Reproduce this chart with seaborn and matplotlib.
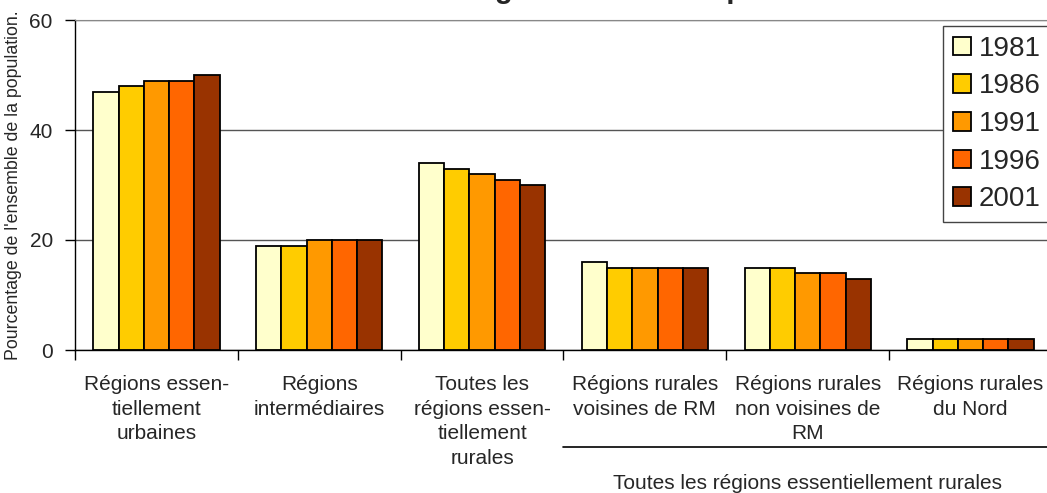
import numpy as np
import pandas as pd
import seaborn as sns
import matplotlib.pyplot as plt

# data
regions = ["Régions essen-\ntiellement\nurbaines",
           "Régions\nintermédiaires",
           "Toutes les\nrégions essen-\ntiellement\nrurales",
           "Régions rurales\nvoisines de RM",
           "Régions rurales\nnon voisines de\nRM",
           "Régions rurales\ndu Nord"]
years = ["1981", "1986", "1991", "1996", "2001"]
v1981 = [47, 19, 34, 16, 15, 2]
v1986 = [48, 19, 33, 15, 15, 2]
v1991 = [49, 20, 32, 15, 14, 2]
v1996 = [49, 20, 31, 15, 14, 2]
v2001 = [50, 20, 30, 15, 13, 2]
colors = ["#FFFFCC", "#FFCC00", "#FF9900", "#FF6600", "#993300"]
group_label = "Toutes les régions essentiellement rurales"
ylabel = "Pourcentage de l'ensemble de la population."
title = "Les régions selon leur part"

rows = []
for yr, vals in zip(years, [v1981, v1986, v1991, v1996, v2001]):
    for reg, v in zip(regions, vals):
        rows.append({"region": reg, "annee": yr, "pct": v})
df = pd.DataFrame(rows)

sns.set_style("white")
plt.rcParams['font.family'] = ['Liberation Sans', 'DejaVu Sans']

W, H = 1047, 493
fig = plt.figure(figsize=(W / 100, H / 100), dpi=100)
ax = fig.add_axes([75 / W, 1 - 350 / H, (1052 - 75) / W, 330 / H])

sns.barplot(data=df, x="region", y="pct", hue="annee", order=regions,
            hue_order=years, palette=dict(zip(years, colors)), saturation=1,
            width=0.775, edgecolor="black", linewidth=1.3, ax=ax)

ax.set_xlim(-0.5, 5.5)
ax.set_ylim(0, 60)
ax.set_yticks([0, 20, 40, 60])
ax.set_axisbelow(True)
ax.yaxis.grid(True, color="#555555", lw=1.0)
ax.spines["right"].set_visible(False)
ax.spines["top"].set_color("#888888")
ax.spines["left"].set_color("black")
ax.spines["bottom"].set_color("black")
ax.spines["left"].set_linewidth(1.0)
ax.spines["bottom"].set_linewidth(1.0)

ax.tick_params(axis="y", which="major", length=7, width=1, color="black",
               direction="out", left=True, pad=9, labelsize=15)
ax.set_xticks(np.arange(6))
ax.set_xticklabels(regions, fontsize=15, linespacing=1.38)
ax.set_xticks(np.arange(-0.5, 6.0, 1.0), minor=True)
ax.tick_params(axis="x", which="major", length=0, pad=18)
ax.tick_params(axis="x", which="minor", length=7, width=1, color="black",
               direction="out", bottom=True)
ax.set_xlabel("")
ax.set_ylabel(ylabel, fontsize=12.8, labelpad=5)

# group line and label below the three rural categories
tr = ax.get_xaxis_transform()
ax.plot([2.5, 5.5], [-0.294, -0.294], color="black", lw=1.2,
        transform=tr, clip_on=False)
ax.text(4.0, -0.405, group_label, transform=tr, ha="center", va="center",
        fontsize=15)

handles, labels = ax.get_legend_handles_labels()
ax.legend(handles, labels, loc="upper left",
          bbox_to_anchor=(943 / W, 1 - 26 / H), bbox_transform=fig.transFigure,
          fontsize=20, frameon=True, fancybox=False, framealpha=1,
          edgecolor="#444444", handlelength=0.65, handleheight=0.65,
          handletextpad=0.3, labelspacing=0.42, borderpad=0.35,
          borderaxespad=0)

# title sits above the canvas, only descenders show
fig.text(409 / W, 1 + 2.5 / H, title, fontsize=21, fontweight="bold",
         ha="left", va="baseline")

fig.savefig("out.png", dpi=100)
